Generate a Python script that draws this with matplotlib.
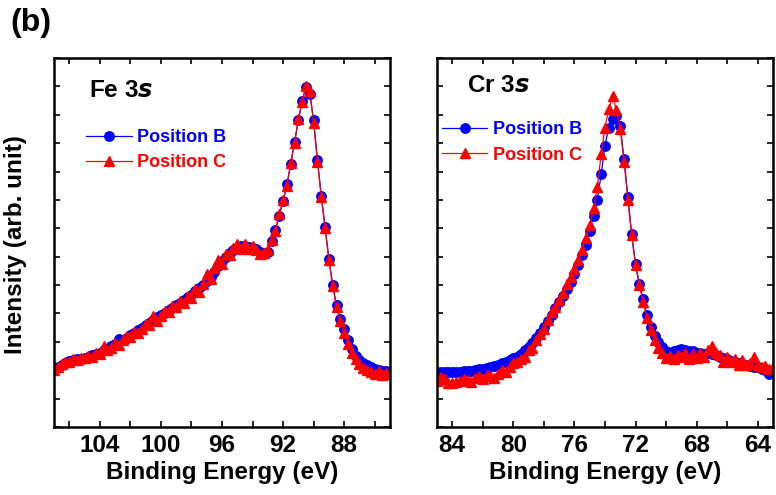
import matplotlib
matplotlib.use("Agg")
import matplotlib.pyplot as plt
from matplotlib.ticker import MultipleLocator, NullFormatter

plt.rcParams["font.family"] = ["Liberation Sans", "DejaVu Sans"]
plt.rcParams["font.weight"] = "bold"

# Fe 3s spectra, binding energy (eV) and intensity (arb. unit)
fe_energy = [
    107.0, 106.75, 106.5, 106.25, 106.0, 105.75, 105.5, 105.25, 105.0, 104.75,
    104.5, 104.25, 104.0, 103.75, 103.5, 103.25, 103.0, 102.75, 102.5, 102.25,
    102.0, 101.75, 101.5, 101.25, 101.0, 100.75, 100.5, 100.25, 100.0, 99.75,
    99.5, 99.25, 99.0, 98.75, 98.5, 98.25, 98.0, 97.75, 97.5, 97.25,
    97.0, 96.75, 96.5, 96.25, 96.0, 95.75, 95.5, 95.25, 95.0, 94.75,
    94.5, 94.25, 94.0, 93.75, 93.5, 93.25, 93.0, 92.75, 92.5, 92.25,
    92.0, 91.75, 91.5, 91.25, 91.0, 90.75, 90.5, 90.25, 90.0, 89.75,
    89.5, 89.25, 89.0, 88.75, 88.5, 88.25, 88.0, 87.75, 87.5, 87.25,
    87.0, 86.75, 86.5, 86.25, 86.0, 85.75, 85.5, 85.25, 85.0,
]
fe_pos_b = [
    2.08, 2.12, 2.20, 2.26, 2.32, 2.36, 2.40, 2.38, 2.44, 2.46,
    2.52, 2.56, 2.62, 2.72, 2.76, 2.84, 2.92, 3.10, 3.05, 3.14,
    3.24, 3.30, 3.40, 3.50, 3.60, 3.66, 3.78, 3.86, 3.96, 4.02,
    4.12, 4.20, 4.30, 4.38, 4.46, 4.58, 4.66, 4.78, 4.88, 5.00,
    5.16, 5.30, 5.46, 5.66, 5.86, 6.00, 6.12, 6.22, 6.30, 6.36,
    6.38, 6.34, 6.30, 6.26, 6.18, 6.08, 6.18, 6.55, 6.95, 7.45,
    7.95, 8.55, 9.25, 10.05, 10.80, 11.50, 11.98, 11.72, 10.80, 9.40,
    8.15, 7.05, 5.92, 5.00, 4.28, 3.80, 3.45, 3.05, 2.75, 2.50,
    2.36, 2.26, 2.18, 2.12, 2.06, 2.02, 1.98, 1.96, 1.94,
]
fe_pos_c = [
    2.02, 2.10, 2.22, 2.30, 2.28, 2.40, 2.36, 2.44, 2.42, 2.50,
    2.48, 2.60, 2.58, 2.86, 2.70, 2.80, 2.95, 2.90, 3.08, 3.20,
    3.18, 3.36, 3.32, 3.46, 3.62, 3.58, 3.90, 3.74, 3.92, 4.08,
    4.05, 4.25, 4.22, 4.45, 4.36, 4.62, 4.55, 4.85, 4.76, 5.05,
    5.40, 5.22, 5.60, 5.90, 5.75, 6.10, 6.05, 6.30, 6.45, 6.28,
    6.45, 6.28, 6.36, 6.22, 6.10, 6.12, 6.25, 6.60, 6.92, 7.50,
    8.00, 8.50, 9.30, 10.00, 10.85, 11.45, 12.00, 11.85, 10.70, 9.35,
    8.10, 7.00, 5.88, 4.95, 4.22, 3.72, 3.30, 2.92, 2.62, 2.40,
    2.22, 2.08, 2.00, 1.92, 1.85, 1.96, 1.84, 1.90, 1.88,
]

# Cr 3s spectra
cr_energy = [
    85.0, 84.75, 84.5, 84.25, 84.0, 83.75, 83.5, 83.25, 83.0, 82.75,
    82.5, 82.25, 82.0, 81.75, 81.5, 81.25, 81.0, 80.75, 80.5, 80.25,
    80.0, 79.75, 79.5, 79.25, 79.0, 78.75, 78.5, 78.25, 78.0, 77.75,
    77.5, 77.25, 77.0, 76.75, 76.5, 76.25, 76.0, 75.75, 75.5, 75.25,
    75.0, 74.75, 74.5, 74.25, 74.0, 73.75, 73.5, 73.25, 73.0, 72.75,
    72.5, 72.25, 72.0, 71.75, 71.5, 71.25, 71.0, 70.75, 70.5, 70.25,
    70.0, 69.75, 69.5, 69.25, 69.0, 68.75, 68.5, 68.25, 68.0, 67.75,
    67.5, 67.25, 67.0, 66.75, 66.5, 66.25, 66.0, 65.75, 65.5, 65.25,
    65.0, 64.75, 64.5, 64.25, 64.0, 63.75, 63.5, 63.25, 63.0,
]
cr_pos_b = [
    1.92, 1.93, 1.92, 1.94, 1.92, 1.95, 1.93, 1.96, 1.97, 1.98,
    2.02, 2.03, 2.06, 2.08, 2.12, 2.14, 2.18, 2.24, 2.30, 2.36,
    2.42, 2.48, 2.58, 2.70, 2.82, 2.97, 3.12, 3.30, 3.52, 3.72,
    3.95, 4.18, 4.40, 4.62, 4.86, 5.12, 5.40, 5.70, 6.05, 6.42,
    6.90, 7.45, 8.00, 8.90, 9.90, 10.55, 10.85, 10.95, 10.60, 9.45,
    8.10, 6.80, 5.75, 5.05, 4.50, 3.95, 3.52, 3.22, 3.00, 2.82,
    2.68, 2.62, 2.66, 2.70, 2.74, 2.70, 2.68, 2.66, 2.62, 2.60,
    2.58, 2.60, 2.56, 2.52, 2.46, 2.42, 2.38, 2.34, 2.30, 2.26,
    2.22, 2.18, 2.14, 2.12, 2.10, 2.06, 2.02, 1.88, 1.98,
]
cr_pos_c = [
    1.62, 1.75, 1.70, 1.56, 1.55, 1.58, 1.62, 1.70, 1.66, 1.60,
    1.72, 1.78, 1.70, 1.82, 1.80, 1.74, 1.88, 2.00, 1.95, 2.12,
    2.25, 2.30, 2.40, 2.45, 2.72, 2.80, 3.05, 3.28, 3.45, 3.78,
    4.05, 4.22, 4.48, 4.72, 5.02, 5.30, 5.55, 5.90, 6.25, 6.65,
    7.10, 7.70, 8.45, 9.60, 10.55, 11.20, 11.65, 11.15, 10.50, 9.35,
    8.00, 6.75, 5.70, 5.00, 4.40, 3.85, 3.40, 3.05, 2.80, 2.60,
    2.42, 2.50, 2.38, 2.55, 2.45, 2.60, 2.40, 2.58, 2.42, 2.62,
    2.48, 2.70, 2.85, 2.62, 2.55, 2.30, 2.45, 2.28, 2.40, 2.20,
    2.35, 2.18, 2.25, 2.45, 2.20, 2.12, 2.15, 2.05, 2.10,
]

panels = [
    (fe_energy, fe_pos_b, fe_pos_c, "Fe 3", (107, 85), [104, 100, 96, 92, 88]),
    (cr_energy, cr_pos_b, cr_pos_c, "Cr 3", (85, 63), [84, 80, 76, 72, 68, 64]),
]
lefts = [0.0696, 0.5631]
legend_anchor = [(0.048, 0.851), (-0.033, 0.872)]
title_pos = [(0.105, 0.913), (0.09, 0.925)]

fig = plt.figure(figsize=(7.76, 4.95), dpi=100)
for i, (e, b, c, name, xlim, xt) in enumerate(panels):
    ax = fig.add_axes([lefts[i], 0.1374, 0.433, 0.7455])
    lb, = ax.plot(e, b, "-o", color="blue", lw=0.9, ms=6.8, mec="blue",
                  label="Position B")
    lc, = ax.plot(e, c, "-^", color="red", lw=0.9, ms=7.5, mec="red",
                  label="Position C")
    ax.set_xlim(*xlim)
    ax.set_ylim(0, 13)
    ax.set_xticks(xt)
    ax.xaxis.set_minor_locator(MultipleLocator(2))
    ax.yaxis.set_major_locator(MultipleLocator(1))
    ax.yaxis.set_major_formatter(NullFormatter())
    ax.tick_params(which="both", direction="in", top=True, right=True,
                   length=4, width=1.2, labelsize=17.5, pad=5)
    for lab in ax.get_xticklabels():
        lab.set_fontweight("bold")
    for sp in ax.spines.values():
        sp.set_linewidth(1.8)
    ax.set_xlabel("Binding Energy (eV)", fontsize=17.5, fontweight="bold",
                  labelpad=3)
    ax.text(*title_pos[i], name + r"$\mathbfit{s}$", transform=ax.transAxes,
            fontsize=17.5, fontweight="bold", va="center", ha="left")
    ax.legend(handles=[lb, lc], loc="upper left",
              bbox_to_anchor=legend_anchor[i], frameon=False,
              labelcolor="linecolor", handlelength=2.5, handletextpad=0.3,
              labelspacing=0.45, prop={"size": 13, "weight": "bold"})

fig.text(0.02, 0.505, "Intensity (arb. unit)", rotation=90, fontsize=17.5,
         fontweight="bold", va="center", ha="center")
fig.text(0.013, 0.953, "(b)", fontsize=23, fontweight="bold", va="center")

fig.savefig("out.png", dpi=100)
